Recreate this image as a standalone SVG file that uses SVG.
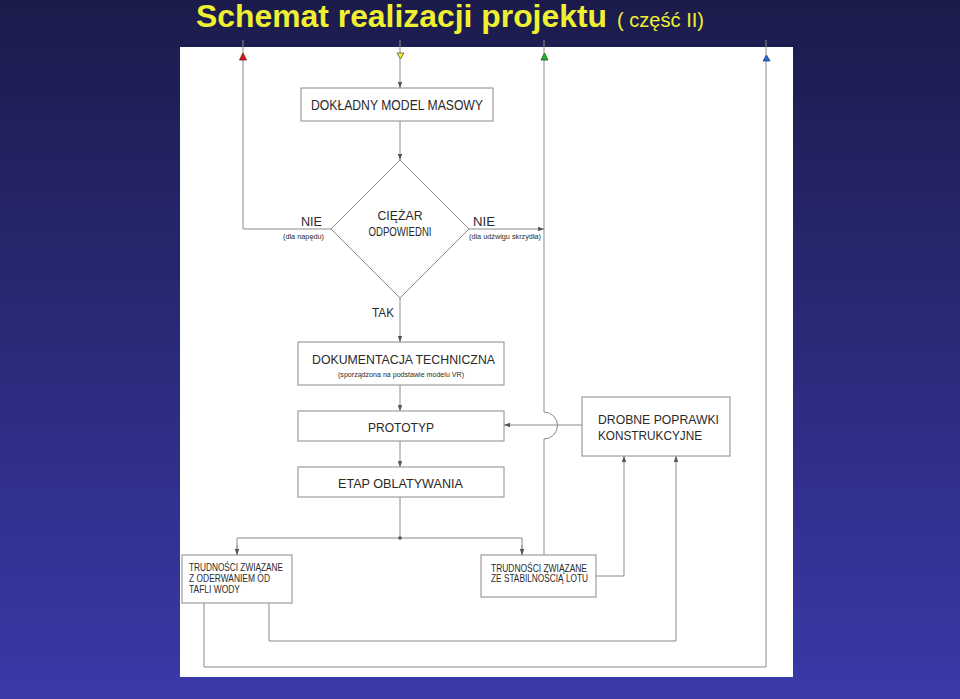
<svg xmlns="http://www.w3.org/2000/svg" width="960" height="699" viewBox="0 0 960 699">
<defs>
<linearGradient id="bg" x1="0" y1="0" x2="0" y2="1">
<stop offset="0" stop-color="#1b1b4b"/>
<stop offset="1" stop-color="#3939a9"/>
</linearGradient>
<marker id="ah" viewBox="0 0 8 6" refX="8" refY="3" markerWidth="6" markerHeight="4.5" markerUnits="userSpaceOnUse" orient="auto">
<path d="M0,0 L8,3 L0,6 Z" fill="#555"/>
</marker>
</defs>
<style>
.ln{fill:none;stroke:#8a8a8a;stroke-width:1}
.bx{fill:#fff;stroke:#8a8a8a;stroke-width:1}
.t{font-family:"Liberation Sans",Arial,sans-serif;fill:#2a2a2a}
.big{font-size:14px}
.mid{font-size:13px}
.sm{font-size:8px}
.bt{font-size:10px}
.tri{stroke-width:0.8}
</style>
<rect x="0" y="0" width="960" height="699" fill="url(#bg)"/>
<rect x="180" y="47" width="613" height="630" fill="#ffffff"/>
<g id="title">
<text x="196" y="27" font-family="'Liberation Sans',Arial,sans-serif" font-size="31" font-weight="bold" fill="#f0f032" textLength="411" lengthAdjust="spacingAndGlyphs">Schemat realizacji projektu</text>
<text x="617" y="27" font-family="'Liberation Sans',Arial,sans-serif" font-size="20" fill="#f0f032" textLength="87" lengthAdjust="spacingAndGlyphs">( część II)</text>
</g>
<g id="connectors">
<line class="ln" x1="400" y1="40" x2="400" y2="88" marker-end="url(#ah)"/>
<line class="ln" x1="400" y1="121" x2="400" y2="160" marker-end="url(#ah)"/>
<polyline class="ln" points="331,229 243,229 243,40"/>
<line class="ln" x1="469" y1="229" x2="544" y2="229" marker-end="url(#ah)"/>
<line class="ln" x1="400" y1="298" x2="400" y2="342" marker-end="url(#ah)"/>
<line class="ln" x1="400" y1="385" x2="400" y2="411" marker-end="url(#ah)"/>
<line class="ln" x1="400" y1="441" x2="400" y2="467" marker-end="url(#ah)"/>
<line class="ln" x1="400" y1="497" x2="400" y2="538"/>
<polyline class="ln" points="237,555 237,538 522,538 522,555"/>
<line class="ln" x1="237" y1="545" x2="237" y2="555" marker-end="url(#ah)"/>
<line class="ln" x1="522" y1="545" x2="522" y2="555" marker-end="url(#ah)"/>
<circle cx="400" cy="538" r="1.8" fill="#555"/>
<path class="ln" d="M544,555 L544,439 A13,13 0 0 0 544,412 L544,40"/>
<line class="ln" x1="582" y1="425" x2="504" y2="425" marker-end="url(#ah)"/>
<polyline class="ln" points="204,603 204,667 766,667 766,40"/>
<polyline class="ln" points="269,603 269,641 676,641 676,456" marker-end="url(#ah)"/>
<polyline class="ln" points="596,576 624,576 624,456" marker-end="url(#ah)"/>
<path class="tri" d="M243,53 L246.5,60 L239.5,60 Z" fill="#d01818" stroke="#801010"/>
<path class="tri" d="M397,53 L404,53 L400.5,59 Z" fill="#f4f020" stroke="#555"/>
<path class="tri" d="M544.5,53 L548,60 L541,60 Z" fill="#20b030" stroke="#106018"/>
<path class="tri" d="M766.5,55 L770,61 L763,61 Z" fill="#2a6ad0" stroke="#1a3a80"/>
</g>
<g id="node-model">
<rect class="bx" x="301" y="88" width="192" height="33"/>
<text class="t big" x="311" y="110" textLength="172" lengthAdjust="spacingAndGlyphs">DOKŁADNY MODEL MASOWY</text>
</g>
<g id="node-decision">
<polygon class="bx" points="400,160 469,229 400,298 331,229"/>
<text class="t mid" x="400" y="220" text-anchor="middle" textLength="45" lengthAdjust="spacingAndGlyphs">CIĘŻAR</text>
<text class="t mid" x="400" y="236" text-anchor="middle" textLength="63" lengthAdjust="spacingAndGlyphs">ODPOWIEDNI</text>
</g>
<g id="label-nie-left">
<text class="t mid" x="301" y="226" textLength="21" lengthAdjust="spacingAndGlyphs">NIE</text>
<text class="t sm" x="283" y="239" textLength="41" lengthAdjust="spacingAndGlyphs">(dla napędu)</text>
</g>
<g id="label-nie-right">
<text class="t mid" x="473" y="226" textLength="22" lengthAdjust="spacingAndGlyphs">NIE</text>
<text class="t sm" x="469" y="239" textLength="72" lengthAdjust="spacingAndGlyphs">(dla udźwigu skrzydła)</text>
</g>
<g id="label-tak">
<text class="t mid" x="372" y="317" textLength="22" lengthAdjust="spacingAndGlyphs">TAK</text>
</g>
<g id="node-dokumentacja">
<rect class="bx" x="298" y="342" width="206" height="43"/>
<text class="t mid" x="312" y="364" textLength="183" lengthAdjust="spacingAndGlyphs">DOKUMENTACJA TECHNICZNA</text>
<text class="t sm" x="338" y="377" textLength="126" lengthAdjust="spacingAndGlyphs">(sporządzona na podstawie modelu VR)</text>
</g>
<g id="node-prototyp">
<rect class="bx" x="298" y="411" width="206" height="30"/>
<text class="t mid" x="368" y="432" textLength="66" lengthAdjust="spacingAndGlyphs">PROTOTYP</text>
</g>
<g id="node-etap">
<rect class="bx" x="298" y="467" width="206" height="30"/>
<text class="t mid" x="338" y="488" textLength="125" lengthAdjust="spacingAndGlyphs">ETAP OBLATYWANIA</text>
</g>
<g id="node-drobne">
<rect class="bx" x="582" y="397" width="148" height="59"/>
<text class="t mid" x="598" y="424" textLength="121" lengthAdjust="spacingAndGlyphs">DROBNE POPRAWKI</text>
<text class="t mid" x="598" y="440" textLength="104" lengthAdjust="spacingAndGlyphs">KONSTRUKCYJNE</text>
</g>
<g id="node-trud-woda">
<rect class="bx" x="182" y="555" width="110" height="48"/>
<text class="t bt" x="189" y="570.5" textLength="94" lengthAdjust="spacingAndGlyphs">TRUDNOŚCI ZWIĄZANE</text>
<text class="t bt" x="189" y="581.5" textLength="81" lengthAdjust="spacingAndGlyphs">Z ODERWANIEM OD</text>
<text class="t bt" x="189" y="592.5" textLength="51" lengthAdjust="spacingAndGlyphs">TAFLI WODY</text>
</g>
<g id="node-trud-lot">
<rect class="bx" x="481" y="555" width="115" height="42"/>
<text class="t bt" x="491" y="571.5" textLength="96" lengthAdjust="spacingAndGlyphs">TRUDNOŚCI ZWIĄZANE</text>
<text class="t bt" x="491" y="582" textLength="97" lengthAdjust="spacingAndGlyphs">ZE STABILNOŚCIĄ LOTU</text>
</g>
</svg>
